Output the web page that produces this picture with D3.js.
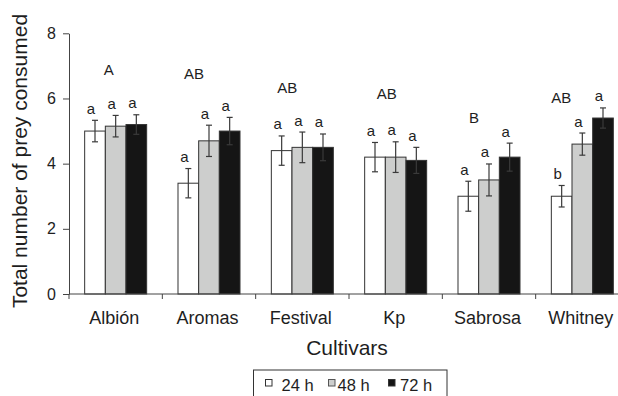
<!DOCTYPE html>
<html>
<head>
<meta charset="utf-8">
<script src="https://cdn.jsdelivr.net/npm/d3@7"></script>
<style>
  html, body { margin: 0; padding: 0; background: #fff; }
  svg { display: block; font-family: "Liberation Sans", Arial, Helvetica, sans-serif; }
</style>
</head>
<body>
<svg id="chart" width="618" height="396"></svg>
<script>
// Cultivars and exposure times
const cultivars = ["Albión", "Aromas", "Festival", "Kp", "Sabrosa", "Whitney"];
const periods = ["24 h", "48 h", "72 h"];

// Mean prey consumed per cultivar, one array per exposure time
const mean24 = [5.0, 3.4, 4.4, 4.2, 3.0, 3.0];
const mean48 = [5.15, 4.7, 4.5, 4.2, 3.5, 4.6];
const mean72 = [5.2, 5.0, 4.5, 4.1, 4.2, 5.4];

// Standard errors
const se24 = [0.33, 0.45, 0.45, 0.45, 0.46, 0.33];
const se48 = [0.33, 0.48, 0.47, 0.47, 0.49, 0.34];
const se72 = [0.30, 0.42, 0.41, 0.40, 0.43, 0.31];

// Significance letters: per bar (within cultivar) and per cultivar
const letters24 = ["a", "a", "a", "a", "a", "b"];
const letters48 = ["a", "a", "a", "a", "a", "a"];
const letters72 = ["a", "a", "a", "a", "a", "a"];
const cultivarLetters = ["A", "AB", "AB", "AB", "B", "AB"];

// Y axis ticks
const yTicks = [0, 2, 4, 6, 8];

// Placement of the cultivar letters (y in data units, x offset in px)
const cultivarLetterY = [6.72, 6.60, 6.17, 5.98, 5.25, 5.86];
const cultivarLetterDx = [-7, -15, -15, -9, -15, -21];

const means = [mean24, mean48, mean72];
const ses = [se24, se48, se72];
const barLetters = [letters24, letters48, letters72];
const fills = ["#ffffff", "#cdcecd", "#151515"];
const ink = "#333333";
const textColor = "#1e1e1e";

const rows = [];
cultivars.forEach((c, i) => {
  periods.forEach((p, j) => {
    rows.push({ cultivar: c, period: p, value: means[j][i], se: ses[j][i], letter: barLetters[j][i], k: j });
  });
});

const svg = d3.select("#chart");

const x = d3.scaleBand().domain(cultivars).range([69, 629]).paddingInner(0).paddingOuter(0);
const xInner = d3.scaleBand().domain(periods).range([0, x.bandwidth()]).paddingInner(0).paddingOuter(0.758);
const y = d3.scaleLinear().domain([0, 8]).range([294, 33.3]);

// Bars
const g = svg.append("g");
g.selectAll("rect.bar").data(rows).enter().append("rect")
  .attr("class", "bar")
  .attr("x", d => x(d.cultivar) + xInner(d.period))
  .attr("y", d => y(d.value))
  .attr("width", xInner.bandwidth())
  .attr("height", d => y(0) - y(d.value))
  .attr("fill", d => fills[d.k])
  .attr("stroke", ink)
  .attr("stroke-width", 1);

// Error bars
const cap = 3;
const eb = g.selectAll("g.err").data(rows).enter().append("g")
  .attr("class", "err")
  .attr("stroke", "#3a3a3a")
  .attr("stroke-width", 1.2);
eb.append("line")
  .attr("x1", d => x(d.cultivar) + xInner(d.period) + xInner.bandwidth() / 2)
  .attr("x2", d => x(d.cultivar) + xInner(d.period) + xInner.bandwidth() / 2)
  .attr("y1", d => y(d.value + d.se))
  .attr("y2", d => y(d.value - d.se));
eb.append("line")
  .attr("x1", d => x(d.cultivar) + xInner(d.period) + xInner.bandwidth() / 2 - cap)
  .attr("x2", d => x(d.cultivar) + xInner(d.period) + xInner.bandwidth() / 2 + cap)
  .attr("y1", d => y(d.value + d.se))
  .attr("y2", d => y(d.value + d.se));
eb.append("line")
  .attr("x1", d => x(d.cultivar) + xInner(d.period) + xInner.bandwidth() / 2 - cap)
  .attr("x2", d => x(d.cultivar) + xInner(d.period) + xInner.bandwidth() / 2 + cap)
  .attr("y1", d => y(d.value - d.se))
  .attr("y2", d => y(d.value - d.se));

// Per-bar letters
g.selectAll("text.bl").data(rows).enter().append("text")
  .attr("class", "bl")
  .attr("x", d => x(d.cultivar) + xInner(d.period) + xInner.bandwidth() / 2 - 4)
  .attr("y", d => y(d.value + d.se) - 6.5)
  .attr("text-anchor", "middle")
  .attr("font-size", 15)
  .attr("fill", textColor)
  .text(d => d.letter);

// Cultivar letters
g.selectAll("text.cl").data(cultivars).enter().append("text")
  .attr("class", "cl")
  .attr("x", (d, i) => x(d) + x.bandwidth() / 2 + cultivarLetterDx[i])
  .attr("y", (d, i) => y(cultivarLetterY[i]))
  .attr("text-anchor", "middle")
  .attr("font-size", 15)
  .attr("fill", textColor)
  .text((d, i) => cultivarLetters[i]);

// Y axis
const yAxis = svg.append("g")
  .attr("transform", "translate(69,0)")
  .call(d3.axisLeft(y).tickValues(yTicks).tickSize(6).tickPadding(7).tickSizeOuter(0));
yAxis.select(".domain").attr("stroke", "#444");
yAxis.selectAll(".tick line").attr("stroke", "#444");
yAxis.selectAll(".tick text").attr("font-size", 16).attr("fill", textColor)
  .attr("font-family", "Liberation Sans, Arial, sans-serif");

// X axis: baseline with ticks at the category boundaries
const xAxis = svg.append("g");
xAxis.append("line")
  .attr("x1", x.range()[0]).attr("x2", x.range()[1])
  .attr("y1", y(0)).attr("y2", y(0))
  .attr("stroke", "#444");
xAxis.selectAll("line.xt").data(cultivars).enter().append("line")
  .attr("class", "xt")
  .attr("x1", d => x(d)).attr("x2", d => x(d))
  .attr("y1", y(0)).attr("y2", y(0) + 5)
  .attr("stroke", "#444");
xAxis.selectAll("text.xl").data(cultivars).enter().append("text")
  .attr("class", "xl")
  .attr("x", d => x(d) + x.bandwidth() / 2 - 1.5)
  .attr("y", 323.5)
  .attr("text-anchor", "middle")
  .attr("font-size", 18)
  .attr("fill", textColor)
  .text(d => d);

// Axis titles
svg.append("text")
  .attr("x", 347).attr("y", 355)
  .attr("text-anchor", "middle")
  .attr("font-size", 21)
  .attr("fill", textColor)
  .text("Cultivars");
svg.append("text")
  .attr("transform", "translate(27,161) rotate(-90)")
  .attr("text-anchor", "middle")
  .attr("font-size", 21)
  .attr("fill", textColor)
  .text("Total number of prey consumed");

// Legend
const legend = svg.append("g").attr("transform", "translate(253.5,370)");
legend.append("rect")
  .attr("x", 0).attr("y", 0).attr("width", 193.5).attr("height", 27)
  .attr("fill", "none").attr("stroke", "#333").attr("stroke-width", 1);
const legendSwatchX = [12, 75, 135];
const legendTextX = [28, 84, 146.5];
const li = legend.selectAll("g.li").data(periods).enter().append("g").attr("class", "li");
li.append("rect")
  .attr("x", (d, i) => legendSwatchX[i]).attr("y", 9.5)
  .attr("width", 6.5).attr("height", 6.5)
  .attr("fill", (d, i) => fills[i])
  .attr("stroke", (d, i) => i === 1 ? "#555" : ink)
  .attr("stroke-width", 1);
li.append("text")
  .attr("x", (d, i) => legendTextX[i]).attr("y", 21)
  .attr("font-size", 16.5)
  .attr("fill", textColor)
  .text(d => d);
</script>
</body>
</html>
